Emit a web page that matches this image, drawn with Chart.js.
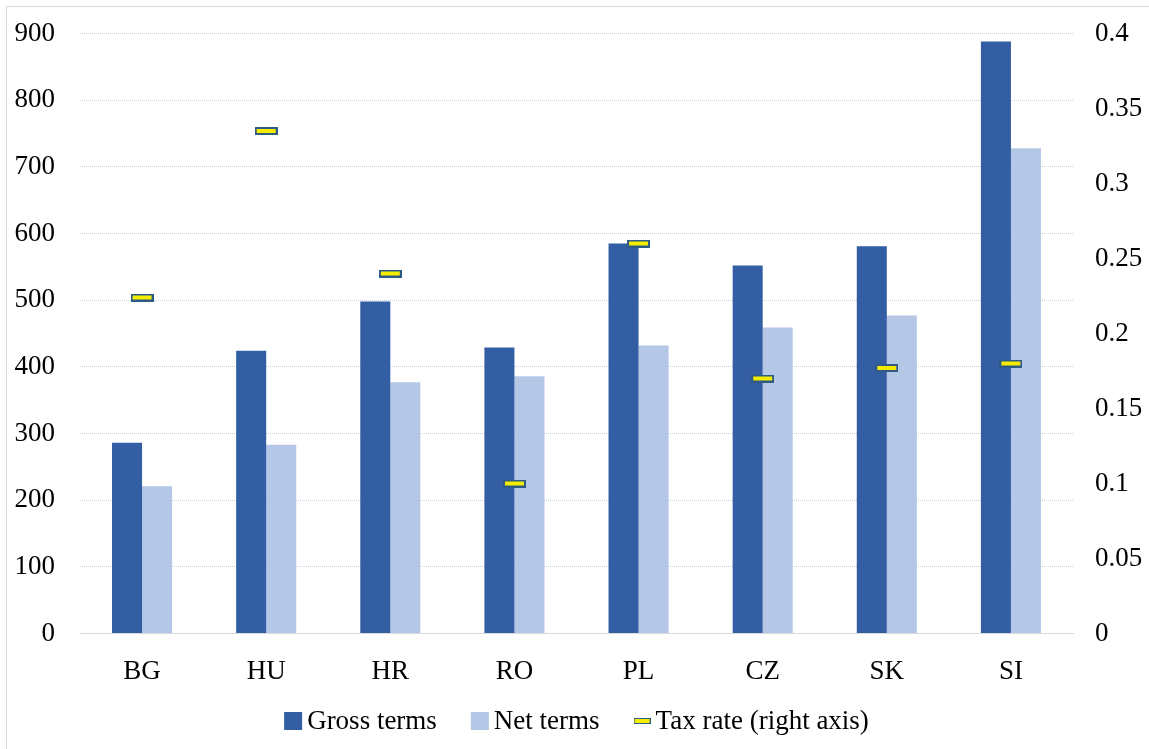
<!DOCTYPE html>
<html>
<head>
<meta charset="utf-8">
<script src="https://cdn.jsdelivr.net/npm/chart.js@4/dist/chart.umd.min.js"></script>
<style>
  html, body { margin: 0; padding: 0; background: #fff; }
  #wrap { position: relative; width: 1149px; height: 749px; }
  #frame { position: absolute; left: 6px; top: 6px; right: 0; bottom: 0;
           border-left: 1px solid #d9d9d9; border-top: 1px solid #d9d9d9; pointer-events: none; }
  canvas { position: absolute; left: 0; top: 0; }
</style>
</head>
<body>
<div id="wrap">
  <canvas id="chart" width="1149" height="749"></canvas>
  <div id="frame"></div>
</div>
<script>
// Countries and series
const countries = ['BG', 'HU', 'HR', 'RO', 'PL', 'CZ', 'SK', 'SI'];
const grossTerms = [286, 424, 498, 429, 585, 552, 581, 888];
const netTerms = [221, 283, 377, 386, 432, 459, 477, 728];
const taxRate = [0.224, 0.335, 0.240, 0.100, 0.260, 0.170, 0.177, 0.180];

// Axis tick values
const leftTicks = [0, 100, 200, 300, 400, 500, 600, 700, 800, 900];
const rightTicks = [0, 0.05, 0.1, 0.15, 0.2, 0.25, 0.3, 0.35, 0.4];

const FONT = "'Liberation Serif', 'Times New Roman', serif";
const GROSS = '#335ea3';
const NET = '#b4c7e7';

// Small yellow dash with a dark outline used as the tax-rate marker
function dashMarker(w, h, lw) {
  const c = document.createElement('canvas');
  c.width = w; c.height = h;
  const g = c.getContext('2d');
  g.fillStyle = '#2e5a86';
  g.fillRect(0, 0, w, h);
  g.fillStyle = '#f5ec00';
  g.fillRect(lw, lw, w - 2 * lw, h - 2 * lw);
  return c;
}
const marker = dashMarker(23, 8, 2);
const legendMarker = dashMarker(17, 6, 1);

// Legend row under the axis: swatch, short gap, label; items spaced evenly
const bottomLegend = {
  id: 'bottomLegend',
  afterDraw(chart) {
    const ctx = chart.ctx;
    const box = 18, textGap = 5, itemGap = 34, cy = 721;
    ctx.save();
    ctx.font = '27px ' + FONT;
    ctx.textBaseline = 'middle';
    ctx.textAlign = 'left';
    const items = chart.data.datasets.map((ds, i) => {
      const sw = i === 2 ? legendMarker.width : box;
      return { ds, i, sw, tw: ctx.measureText(ds.label).width };
    });
    const total = items.reduce((s, it) => s + it.sw + textGap + it.tw, 0) + itemGap * (items.length - 1);
    let x = (chart.chartArea.left + chart.chartArea.right) / 2 - total / 2;
    items.forEach(it => {
      if (it.i === 2) {
        ctx.drawImage(legendMarker, x, Math.round(cy - legendMarker.height / 2));
      } else {
        ctx.fillStyle = it.ds.backgroundColor;
        ctx.fillRect(x, cy - box / 2, box, box);
      }
      x += it.sw + textGap;
      ctx.fillStyle = '#000';
      ctx.fillText(it.ds.label, x, cy + 1);
      x += it.tw + itemGap;
    });
    ctx.restore();
  }
};

// Vertical axes: fixed width, no extra inner padding for the end labels
function fixVertical(width) {
  return axis => {
    axis.width = width;
    axis.paddingTop = 0;
    axis.paddingBottom = 0;
  };
}

new Chart(document.getElementById('chart'), {
  type: 'bar',
  data: {
    labels: countries,
    datasets: [
      {
        label: 'Gross terms',
        data: grossTerms,
        backgroundColor: GROSS,
        categoryPercentage: 0.484,
        barPercentage: 1,
        yAxisID: 'y',
        order: 2
      },
      {
        label: 'Net terms',
        data: netTerms,
        backgroundColor: NET,
        categoryPercentage: 0.484,
        barPercentage: 1,
        yAxisID: 'y',
        order: 2
      },
      {
        type: 'line',
        label: 'Tax rate (right axis)',
        data: taxRate,
        showLine: false,
        pointStyle: marker,
        pointRadius: 6,
        pointHoverRadius: 6,
        borderColor: '#2e5a86',
        backgroundColor: '#f5ec00',
        yAxisID: 'y1',
        order: 0
      }
    ]
  },
  plugins: [bottomLegend],
  options: {
    responsive: false,
    animation: false,
    devicePixelRatio: 1,
    layout: { autoPadding: false, padding: { left: 0, right: 0, top: 33.5, bottom: 55.5 } },
    plugins: {
      tooltip: { enabled: false },
      legend: { display: false }
    },
    scales: {
      x: {
        grid: { display: false, drawTicks: false },
        border: { display: true, color: '#d9d9d9', width: 1 },
        ticks: { font: { family: FONT, size: 27 }, color: '#000', padding: 22 },
        afterFit(axis) { axis.height = 60; axis.paddingLeft = 0; axis.paddingRight = 0; }
      },
      y: {
        position: 'left',
        min: 0,
        max: 900,
        afterBuildTicks(axis) { axis.ticks = leftTicks.map(v => ({ value: v })); },
        grid: { color: '#c3cfe4', lineWidth: 1, drawTicks: false },
        border: { display: false, dash: [1, 1] },
        ticks: { font: { family: FONT, size: 27 }, color: '#000', padding: 25 },
        afterFit: fixVertical(80)
      },
      y1: {
        position: 'right',
        min: 0,
        max: 0.4,
        afterBuildTicks(axis) { axis.ticks = rightTicks.map(v => ({ value: v })); },
        grid: { drawOnChartArea: false, drawTicks: false },
        border: { display: false },
        ticks: {
          font: { family: FONT, size: 27 },
          color: '#000',
          padding: 22,
          callback: v => String(+Number(v).toFixed(2))
        },
        afterFit: fixVertical(76)
      }
    }
  }
});
</script>
</body>
</html>
